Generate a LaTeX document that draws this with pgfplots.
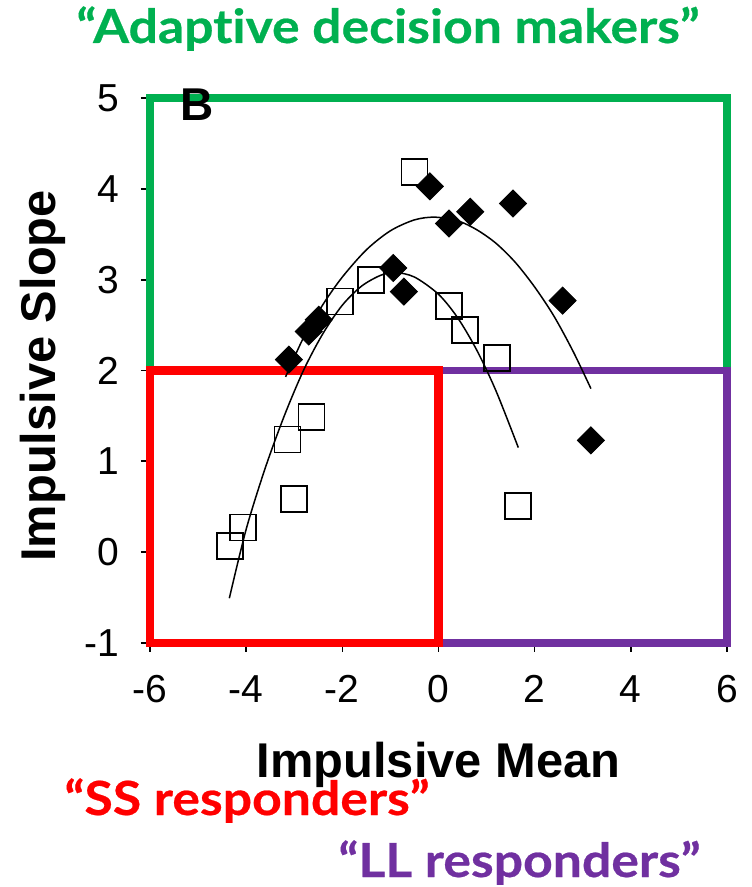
\documentclass[border=0pt]{standalone}
\usepackage{fontspec}
\setmainfont{Liberation Sans}
\newfontfamily\gillfont{Lato}[FakeStretch=1.1, Ligatures=NoCommon, BoldFeatures={FakeBold=0.5}]
\usepackage{pgfplots}
\pgfplotsset{compat=1.18}
\definecolor{oGreen}{RGB}{0,176,80}
\definecolor{oRed}{RGB}{255,0,0}
\definecolor{oPurple}{RGB}{112,48,160}
\begin{document}
\begin{tikzpicture}
\useasboundingbox (-75pt,-122.15pt) rectangle (300.5pt,321.35pt);
\begin{axis}[
  at={(0,0)}, anchor=south west,
  scale only axis, width=288.5pt, height=272.2pt,
  xmin=-6, xmax=6, ymin=-1, ymax=5,
  xtick={-6,-4,-2,0,2,4,6}, ytick={-1,0,1,2,3,4,5},
  xticklabels={-6,-4,-2,0,2,4,6},
  yticklabels={-1,0,1,2,3,4,5},
  axis x line*=bottom, axis y line*=left,
  axis line style={black, line width=0.8pt, -},
  tick align=outside, major tick length=4.5pt,
  tick style={black, line width=0.8pt},
  ticklabel style={font=\fontsize{19.5}{20}\selectfont},
  xticklabel style={yshift=-8.5pt},
  yticklabel style={xshift=-7.5pt},
  xlabel={Impulsive Mean}, ylabel={Impulsive Slope},
  label style={font=\bfseries\fontsize{24.4}{26}\selectfont},
  xlabel style={at={(axis description cs:0.5,-0.2467)}, anchor=base},
  ylabel style={at={(axis description cs:-0.1646,0.49)}, anchor=base},
  clip=false,
]
% region boxes
\addplot[oGreen, line width=3.8pt, line join=miter, mark=none] coordinates {(-6,2) (6,2) (6,5) (-6,5)} -- cycle;
\addplot[oPurple, line width=3.8pt, line join=miter, mark=none] coordinates {(0,-1) (6,-1) (6,2) (0,2)} -- cycle;
\addplot[oRed, line width=4.2pt, line join=miter, mark=none] coordinates {(-6,-1) (0,-1) (0,2) (-6,2)} -- cycle;
% open squares
\addplot[only marks, mark=square, mark size=6.5pt, mark options={line width=0.9pt, draw=black}] coordinates {
(-0.50,4.19) (-1.40,3.00) (-2.05,2.76) (0.22,2.71) (0.55,2.45) (1.21,2.14)
(-2.64,1.49) (-3.14,1.24) (-3.01,0.58) (-4.07,0.27) (-4.33,0.07) (1.66,0.51)
};
% filled diamonds
\addplot[only marks, mark=square*, mark size=4.8pt, mark options={rotate=45, fill=black, draw=black}] coordinates {
(-3.11,2.12) (-2.70,2.43) (-2.49,2.56) (-0.94,3.13) (-0.72,2.87) (-0.18,4.03)
(0.22,3.62) (0.66,3.75) (1.55,3.84) (2.58,2.77) (3.17,1.23)
};
% trend curves
\addplot[black, line width=0.75pt, smooth, mark=none] coordinates {
(-3.18,1.93) (-2.8,2.37) (-2.4,2.73) (-2.0,3.03) (-1.5,3.33) (-1.0,3.54) (-0.5,3.66)
(-0.08,3.69) (0.4,3.65) (0.8,3.55) (1.2,3.40) (1.6,3.19) (2.0,2.92) (2.4,2.60) (2.8,2.21) (3.17,1.80)
};
\addplot[black, line width=0.75pt, smooth, mark=none] coordinates {
(-4.35,-0.51) (-4.0,0.25) (-3.6,0.93) (-3.2,1.51) (-2.8,2.01) (-2.4,2.41) (-2.0,2.72)
(-1.6,2.93) (-1.2,3.05) (-0.9,3.08) (-0.5,3.03) (0,2.84) (0.4,2.58) (0.8,2.22) (1.2,1.77) (1.66,1.15)
};
\node[anchor=base west, inner sep=0pt, font=\bfseries\fontsize{23}{24}\selectfont] at (axis cs:-5.38,4.76) {B};
\end{axis}
\node[anchor=base, inner sep=0pt, text=oGreen, font=\gillfont\bfseries\fontsize{23.5}{25}\selectfont] at (119pt,299.85pt) {“Adaptive decision makers”};
\node[anchor=base, inner sep=0pt, text=oRed, font=\gillfont\bfseries\fontsize{23.5}{25}\selectfont] at (48.5pt,-86.15pt) {“SS responders”};
\node[anchor=base, inner sep=0pt, text=oPurple, font=\gillfont\bfseries\fontsize{23.5}{25}\selectfont] at (184.75pt,-117.15pt) {“LL responders”};
\end{tikzpicture}
\end{document}
